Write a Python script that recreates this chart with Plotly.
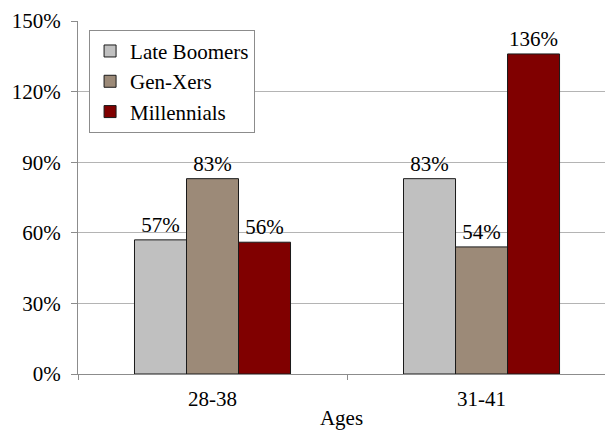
import plotly.graph_objects as go

# Age brackets and the value for each generation, in percent
ages = ["28-38", "31-41"]
late_boomers = [57, 83]
gen_xers = [83, 54]
millennials = [56, 136]

series_names = ["Late Boomers", "Gen-Xers", "Millennials"]
series_colors = ["#C0C0C0", "#9C8A78", "#800000"]
series_values = [late_boomers, gen_xers, millennials]

FONT = "Liberation Serif"
SIZE = 21

fig = go.Figure()
for name, color, vals in zip(series_names, series_colors, series_values):
    fig.add_trace(go.Bar(
        x=ages,
        y=vals,
        name=name,
        marker=dict(color=color, line=dict(color="#1a1a1a", width=1)),
        text=[f"{v}%" for v in vals],
        textposition="outside",
        textfont=dict(family=FONT, size=SIZE, color="#000"),
        cliponaxis=False,
    ))

fig.update_layout(
    width=605,
    height=430,
    margin=dict(l=78, r=0, t=21, b=56),
    paper_bgcolor="white",
    plot_bgcolor="white",
    barmode="group",
    bargap=0.42,
    bargroupgap=0,
    font=dict(family=FONT, size=SIZE, color="#000"),
    legend=dict(
        x=0.021, y=0.975, xanchor="left", yanchor="top",
        bgcolor="white", bordercolor="#8c8c8c", borderwidth=1,
        font=dict(family=FONT, size=SIZE, color="#000"),
        tracegroupgap=0,
        itemwidth=30,
    ),
    xaxis=dict(
        type="category",
        range=[-0.5, 1.459],
        automargin=False,
        tickson="boundaries",
        ticks="outside",
        ticklen=5,
        tickcolor="#8c8c8c",
        showline=True,
        linecolor="#8c8c8c",
        showgrid=False,
        ticklabelstandoff=6,
        title=dict(text="Ages", standoff=6, font=dict(family=FONT, size=SIZE, color="#000")),
        tickfont=dict(family=FONT, size=SIZE, color="#000"),
    ),
    yaxis=dict(
        range=[0, 150],
        automargin=False,
        dtick=30,
        ticksuffix="%",
        ticks="outside",
        ticklen=6,
        tickcolor="#8c8c8c",
        showline=True,
        linecolor="#8c8c8c",
        gridcolor="#b4b4b4",
        gridwidth=1,
        zeroline=False,
        ticklabelstandoff=6,
        tickfont=dict(family=FONT, size=SIZE, color="#000"),
    ),
)

fig.write_html("out.html")
